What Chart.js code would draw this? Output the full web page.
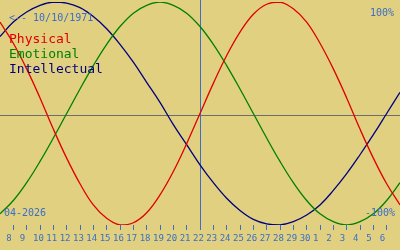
<!DOCTYPE html>
<html>
<head>
<meta charset="utf-8">
<script src="https://cdn.jsdelivr.net/npm/chart.js@4.4.0/dist/chart.umd.min.js"></script>
<style>
  html, body { margin: 0; padding: 0; background: #e0d080; }
  #wrap { width: 400px; height: 250px; position: relative; }
</style>
</head>
<body>
<div id="wrap"><canvas id="bio"></canvas></div>
<script>
const days = ['7', '8', '9', '10', '11', '12', '13', '14', '15', '16', '17', '18', '19', '20', '21',
  '22', '23', '24', '25', '26', '27', '28', '29', '30', '1', '2', '3', '4', '5', '6', '7'];

const physical = [0.82, 0.63, 0.40, 0.14, -0.14, -0.40, -0.63, -0.82, -0.94, -1.00, -0.98, -0.89,
  -0.73, -0.52, -0.27, 0.00, 0.27, 0.52, 0.73, 0.89, 0.98, 1.00, 0.94, 0.82, 0.63, 0.40, 0.14,
  -0.14, -0.40, -0.63, -0.82];

const emotional = [-0.90, -0.78, -0.62, -0.43, -0.22, 0.00, 0.22, 0.43, 0.62, 0.78, 0.90, 0.97,
  1.00, 0.97, 0.90, 0.78, 0.62, 0.43, 0.22, 0.00, -0.22, -0.43, -0.62, -0.78, -0.90, -0.97, -1.00,
  -0.97, -0.90, -0.78, -0.62];

const intellectual = [0.69, 0.82, 0.91, 0.97, 1.00, 0.99, 0.95, 0.87, 0.76, 0.62, 0.46, 0.28, 0.10,
  -0.10, -0.28, -0.46, -0.62, -0.76, -0.87, -0.95, -0.99, -1.00, -0.97, -0.91, -0.82, -0.69, -0.54,
  -0.37, -0.19, 0.00, 0.19];

const todayIndex = 15;
const birthLabel = '<-- 10/10/1971';
const monthLabel = '04-2026';
const topLabel = '100%';
const bottomLabel = '-100%';
const seriesNames = ['Physical', 'Emotional', 'Intellectual'];
const seriesColors = ['#e00000', '#008000', '#000080'];

const blue = '#3a6ec8';
const mono = '"DejaVu Sans Mono", monospace';

const overlay = {
  id: 'bioOverlay',
  beforeDatasetsDraw(chart) {
    const ctx = chart.ctx;
    const x = chart.scales.x;
    const y = chart.scales.y;
    ctx.save();
    // zero line
    const y0 = Math.round(y.getPixelForValue(0)) + 1.5;
    ctx.strokeStyle = '#6a7068';
    ctx.lineWidth = 1;
    ctx.beginPath();
    ctx.moveTo(0, y0);
    ctx.lineTo(chart.width, y0);
    ctx.stroke();
    // today line
    const xt = Math.round(x.getPixelForValue(todayIndex)) + 0.5;
    ctx.strokeStyle = blue;
    ctx.beginPath();
    ctx.moveTo(xt, 0);
    ctx.lineTo(xt, chart.chartArea.bottom + 5);
    ctx.stroke();
    ctx.restore();
  },
  afterDatasetsDraw(chart) {
    const ctx = chart.ctx;
    ctx.save();
    ctx.textBaseline = 'alphabetic';
    ctx.font = '10px ' + mono;
    ctx.fillStyle = blue;
    ctx.textAlign = 'left';
    ctx.fillText(birthLabel, 9, 21);
    ctx.fillText(monthLabel, 4, 216);
    ctx.textAlign = 'right';
    ctx.fillText(topLabel, 394, 16);
    ctx.fillText(bottomLabel, 395, 216);

    ctx.textAlign = 'left';
    ctx.font = '13px ' + mono;
    seriesNames.forEach((name, i) => {
      ctx.fillStyle = seriesColors[i];
      ctx.fillText(name, 9, 43 + i * 15);
    });
    ctx.restore();
  },
};

new Chart(document.getElementById('bio'), {
  type: 'line',
  data: {
    labels: days,
    datasets: [
      { label: seriesNames[0], data: physical, borderColor: seriesColors[0] },
      { label: seriesNames[1], data: emotional, borderColor: seriesColors[1] },
      { label: seriesNames[2], data: intellectual, borderColor: seriesColors[2] },
    ].map((d) => ({ ...d, borderWidth: 1.3, pointRadius: 0, tension: 0.4, fill: false })),
  },
  options: {
    responsive: true,
    maintainAspectRatio: false,
    animation: false,
    events: [],
    layout: { padding: { top: 2, left: 0, right: 0, bottom: 0 } },
    plugins: { legend: { display: false }, tooltip: { enabled: false }, title: { display: false } },
    scales: {
      x: {
        type: 'category',
        offset: false,
        border: { display: false },
        grid: { drawOnChartArea: false, drawTicks: true, tickLength: 5, color: blue, lineWidth: 1 },
        ticks: {
          autoSkip: false,
          maxRotation: 0,
          minRotation: 0,
          align: 'start',
          labelOffset: -7,
          padding: 3,
          color: blue,
          font: { family: mono, size: 9 },
        },
        afterBuildTicks(scale) {
          scale.ticks = scale.ticks.filter((t) => t.value > 0 && t.value < days.length - 1);
        },
        afterFit(scale) {
          scale.height = 25;
        },
      },
      y: { display: false, min: -1, max: 1 },
    },
  },
  plugins: [overlay],
});
</script>
</body>
</html>
